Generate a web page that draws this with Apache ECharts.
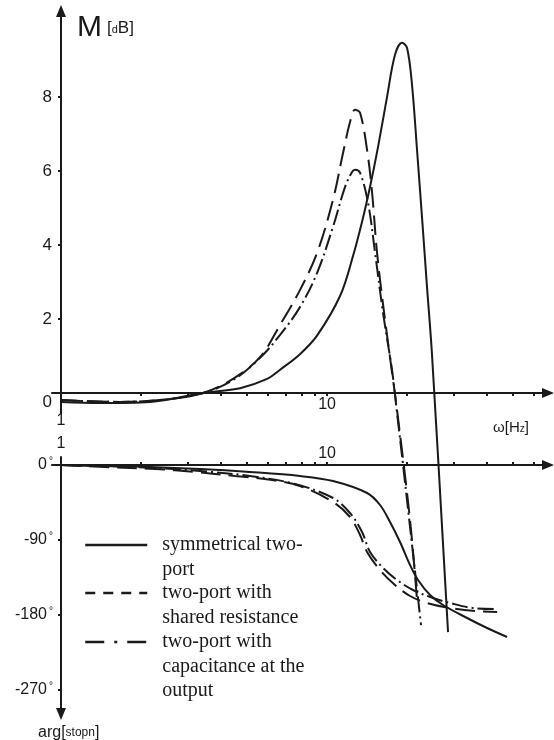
<!DOCTYPE html>
<html>
<head>
<meta charset="utf-8">
<title>M [dB] / arg</title>
<script src="https://cdn.jsdelivr.net/npm/echarts@6/dist/echarts.min.js"></script>
<style>
    html, body { margin: 0; padding: 0; background: #fff; }
    #chart { width: 554px; height: 740px; }
</style>
</head>
<body>
<div id="chart"></div>
<script>
    // the three two-ports
    var names = ['symmetrical two-port', 'two-port with shared resistance', 'two-port with capacitance at the output'];
    var legendText = ['symmetrical two-\nport', 'two-port with\nshared resistance', 'two-port with\ncapacitance at the\noutput'];

    // magnitude M [dB] against ω [Hz]
    var wMagSym = [1, 1.40, 2.16, 3.42, 4.71, 5.95, 6.66, 7.91, 9.17, 11.19, 12.52, 13.65, 14.51, 15.55, 16.81, 18.01, 19.14, 19.99, 20.87, 21.79, 22.76, 23.76, 24.81, 28.5];
    var magSym = [-0.24, -0.27, -0.24, 0, 0.13, 0.38, 0.63, 1.05, 1.55, 2.62, 3.70, 4.73, 5.57, 6.65, 8.00, 9.14, 9.46, 9.32, 8.32, 6.57, 4.73, 2.86, 1.03, -6.46];
    var wMagRes = [1, 1.67, 2.57, 3.42, 4.43, 5.60, 6.66, 7.91, 9.17, 10.53, 11.49, 12.20, 12.74, 13.31, 14.14, 14.77, 15.42, 16.52, 17.71, 18.33, 20.51, 21.79];
    var magRes = [-0.19, -0.24, -0.16, 0, 0.38, 0.97, 1.84, 2.78, 3.78, 5.22, 6.49, 7.32, 7.65, 7.57, 6.57, 5.41, 3.78, 1.97, 0.35, -0.46, -3.43, -5.59];
    var wMagCap = [1, 1.67, 2.57, 3.42, 4.43, 5.60, 6.66, 7.91, 9.17, 10.53, 11.69, 12.42, 12.74, 13.31, 14.26, 15.16, 16.24, 17.55, 18.33, 19.31, 22.56];
    var magCap = [-0.19, -0.24, -0.16, 0, 0.35, 0.95, 1.57, 2.32, 3.24, 4.49, 5.57, 5.97, 6.03, 5.95, 5.14, 3.78, 2.16, 0.62, -0.54, -1.95, -6.27];

    // phase arg [°] against ω [Hz]
    var wArgSym = [1, 1.40, 2.16, 3.33, 5.13, 7.91, 10.53, 14.14, 15.82, 17.25, 18.81, 20.51, 21.98, 24.39, 27.30, 33.6, 39.95, 47.5];
    var argSym = [0, -1.2, -2.4, -4.8, -8.4, -13.2, -19.2, -33.6, -48, -68.4, -92.4, -120, -138, -156, -168, -183.6, -195.6, -206.4];
    var wArgRes = [1, 1.46, 2.26, 3.19, 4.51, 6.21, 7.91, 10.53, 12.20, 13.31, 14.14, 15.82, 18.01, 20.51, 23.76, 29.0, 36.0, 43.6];
    var argRes = [0, -2.4, -4.8, -8.4, -13.2, -18, -25.2, -44.4, -62.4, -84, -104.4, -126, -144, -157.2, -165.6, -171.6, -175.2, -176.4];
    var wArgCap = [1, 1.46, 2.26, 3.33, 5.13, 7.58, 10.53, 12.20, 13.54, 14.51, 16.24, 18.33, 21.05, 25.03, 29.0, 35.4, 43.6];
    var argCap = [0, -1.2, -3.6, -7.2, -13.2, -22.8, -39.6, -57.6, -80.4, -104.4, -123.6, -138, -150, -159.6, -165.6, -171.6, -172.8];

    // ticks and labels
    var wTicks = [2, 3, 4, 5, 6, 7, 8, 9, 10, 20, 30, 40, 50, 60];
    var wLabels = [1, 10];
    var magTicks = [0, 2, 4, 6, 8];
    var argTicks = [0, -90, -180, -270];

    var ink = '#1a1a1a';
    var sans = 'Liberation Sans, Arial, sans-serif';
    var serif = 'Liberation Serif, Times New Roman, serif';
    var dashes = ['solid', [20, 8], [16, 4, 2, 4]];
    var legendDashes = ['solid', [10, 8], [19, 10, 3, 10]];
    var legendIconY = [545, 593, 642];
    var lineH = 24.5;

    function pairs(xs, ys) {
        return xs.map(function (x, i) { return [x, ys[i]]; });
    }
    var magData = [pairs(wMagSym, magSym), pairs(wMagRes, magRes), pairs(wMagCap, magCap)];
    var argData = [pairs(wArgSym, argSym), pairs(wArgRes, argRes), pairs(wArgCap, argCap)];

    var series = [];
    names.forEach(function (name, i) {
        var common = {
            name: name,
            type: 'line',
            symbol: 'none',
            smooth: 0.35,
            clip: false,
            z: i === 0 ? 4 : 3,
            lineStyle: { color: ink, width: 2, type: dashes[i] }
        };
        series.push(Object.assign({ xAxisIndex: 0, yAxisIndex: 0, data: magData[i] }, common));
        series.push(Object.assign({ xAxisIndex: 1, yAxisIndex: 1, data: argData[i] }, common));
    });

    // one legend per entry; blank lines in front keep the icon on the first text line
    var legends = names.map(function (name, i) {
        var n = legendText[i].split('\n').length;
        var shown = new Array(n).join('\n') + legendText[i];
        return {
            data: [name],
            left: 84,
            top: legendIconY[i] - (2 * n - 1) * lineH / 2,
            padding: 0,
            orient: 'vertical',
            selectedMode: false,
            itemWidth: 62,
            itemHeight: 14,
            itemStyle: { opacity: 0 },
            lineStyle: { color: ink, width: 2.5, type: legendDashes[i] },
            formatter: function () { return shown; },
            textStyle: {
                fontFamily: serif, fontSize: 20, color: ink, lineHeight: lineH,
                padding: [0, 0, 0, 10]
            }
        };
    });

    var isOne = function (v) { return Math.abs(v - 1) < 1e-6; };

    var chart = echarts.init(document.getElementById('chart'));
    chart.setOption({
        animation: false,
        backgroundColor: '#fff',
        title: [
            {
                text: '{m|M} {b|[}{s|d}{b|B]}', left: 77, top: 10, padding: 0,
                textStyle: {
                    fontWeight: 'normal',
                    rich: {
                        m: { fontFamily: sans, fontSize: 30, fontWeight: 'normal', color: ink, lineHeight: 36 },
                        b: { fontFamily: sans, fontSize: 17, fontWeight: 'normal', color: ink },
                        s: { fontFamily: sans, fontSize: 11, fontWeight: 'normal', color: ink, padding: [4, 0, 0, 0] }
                    }
                }
            },
            {
                text: '{a|ω[H}{s|z}{a|]}', left: 493, top: 419, padding: 0,
                textStyle: {
                    fontWeight: 'normal',
                    rich: {
                        a: { fontFamily: sans, fontSize: 15, fontWeight: 'normal', color: ink, lineHeight: 18 },
                        s: { fontFamily: sans, fontSize: 10, fontWeight: 'normal', color: ink, padding: [3, 0, 0, 0] }
                    }
                }
            },
            {
                text: '{a|arg[}{s|stopn}{a|]}', left: 38, top: 724, padding: 0,
                textStyle: {
                    fontWeight: 'normal',
                    rich: {
                        a: { fontFamily: sans, fontSize: 16, fontWeight: 'normal', color: ink, lineHeight: 18 },
                        s: { fontFamily: sans, fontSize: 12, fontWeight: 'normal', color: ink }
                    }
                }
            }
        ],
        legend: legends,
        grid: [
            { left: 52, right: 6, top: 11, height: 402, outerBoundsMode: 'none' },
            { left: 52, right: 6, top: 457, height: 257, outerBoundsMode: 'none' }
        ],
        xAxis: [
            {
                gridIndex: 0, type: 'log', logBase: 10, min: 0.925, max: 67.7,
                position: 'bottom', offset: -20,
                axisLine: { onZero: false, symbol: ['none', 'triangle'], symbolSize: [10, 12], lineStyle: { color: ink, width: 2 } },
                axisTick: { customValues: wTicks, length: 3, lineStyle: { color: ink, width: 2 } },
                axisLabel: {
                    customValues: wLabels, margin: 4,
                    formatter: function (v) { return isOne(v) ? '{one|1}' : '{n|' + v + '}'; },
                    rich: {
                        n: { fontFamily: sans, fontSize: 16, color: ink },
                        one: { fontFamily: sans, fontSize: 16, color: ink, padding: [16, 0, 0, 0] }
                    }
                },
                splitLine: { show: false }
            },
            {
                gridIndex: 1, type: 'log', logBase: 10, min: 0.925, max: 67.7,
                position: 'top', offset: -8,
                axisLine: { onZero: false, symbol: ['none', 'triangle'], symbolSize: [10, 12], lineStyle: { color: ink, width: 2 } },
                axisTick: { customValues: wTicks, length: 3, lineStyle: { color: ink, width: 2 } },
                axisLabel: {
                    customValues: wLabels, margin: 3,
                    formatter: function (v) { return isOne(v) ? '{one|1}' : '{n|' + v + '}'; },
                    rich: {
                        n: { fontFamily: sans, fontSize: 16, color: ink },
                        one: { fontFamily: sans, fontSize: 16, color: ink, padding: [0, 0, 10, 0] }
                    }
                },
                splitLine: { show: false }
            }
        ],
        yAxis: [
            {
                gridIndex: 0, type: 'value', min: -0.54, max: 10.32,
                position: 'left', offset: -9,
                axisLine: { show: true, onZero: false, symbol: ['none', 'triangle'], symbolSize: [10, 12], lineStyle: { color: ink, width: 2 } },
                axisTick: { show: true, customValues: magTicks, length: 3, lineStyle: { color: ink, width: 2 } },
                axisLabel: {
                    customValues: magTicks, margin: 9,
                    formatter: function (v) { return v === 0 ? '{z|0}' : '{n|' + v + '}'; },
                    rich: {
                        n: { fontFamily: sans, fontSize: 17, color: ink },
                        z: { fontFamily: sans, fontSize: 17, color: ink, padding: [18, 0, 0, 0] }
                    }
                },
                splitLine: { show: false }
            },
            {
                gridIndex: 1, type: 'value', min: -298.8, max: 9.6,
                position: 'left', offset: -9,
                axisLine: { show: true, onZero: false, symbol: ['triangle', 'none'], symbolSize: [10, 12], lineStyle: { color: ink, width: 2 } },
                axisTick: { show: true, customValues: argTicks, length: 3, lineStyle: { color: ink, width: 2 } },
                axisLabel: {
                    customValues: argTicks, margin: 8,
                    formatter: function (v) { return '{n|' + v + '}{d|°}'; },
                    rich: {
                        n: { fontFamily: sans, fontSize: 16, color: ink, lineHeight: 18 },
                        d: { fontFamily: sans, fontSize: 10, color: ink, verticalAlign: 'top', padding: [0, 0, 0, 2] }
                    }
                },
                splitLine: { show: false }
            }
        ],
        series: series
    });
</script>
</body>
</html>
